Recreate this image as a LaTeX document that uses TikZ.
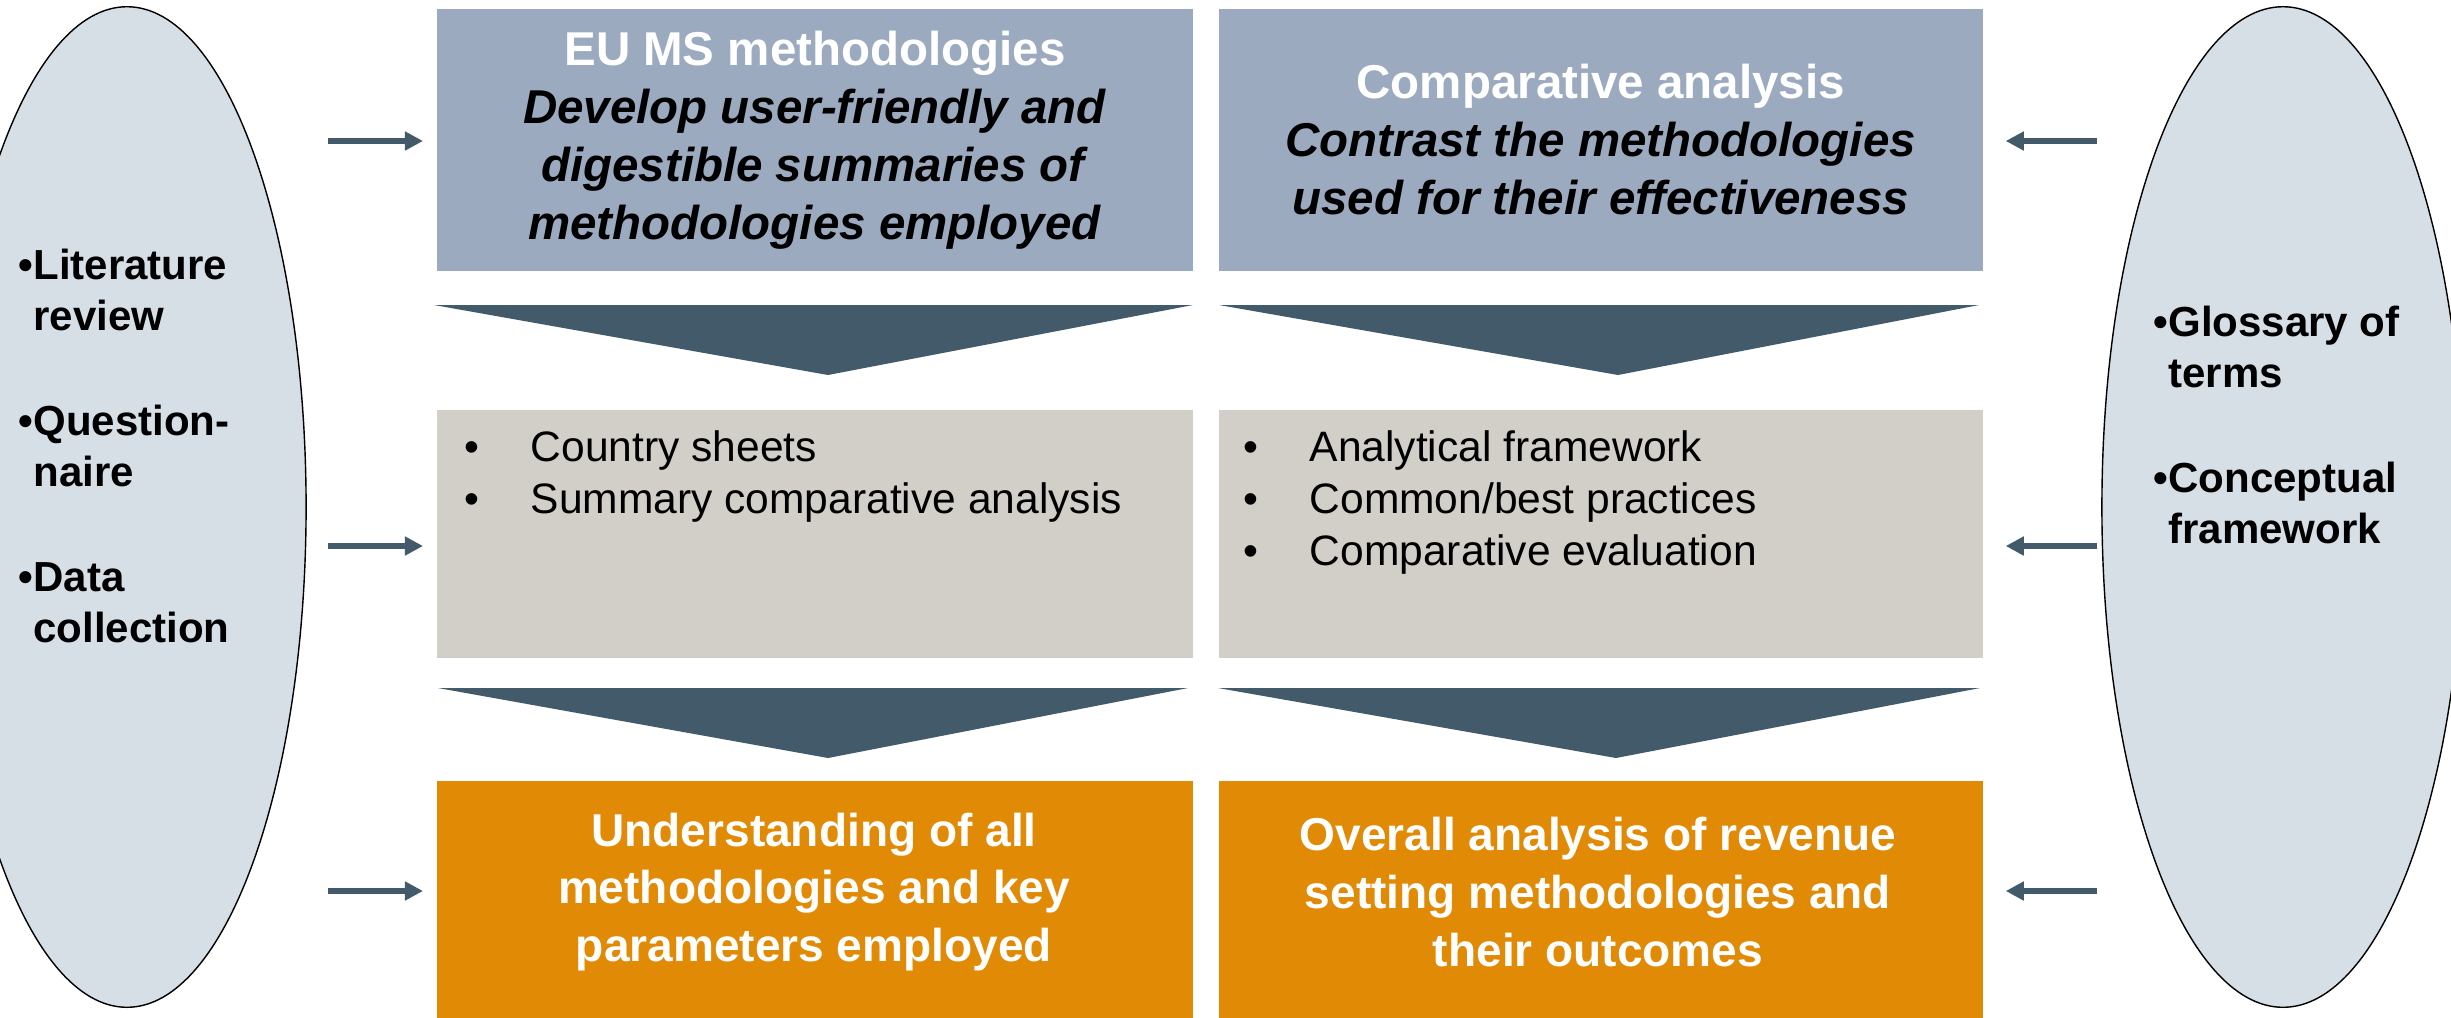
\documentclass[tikz,border=0pt]{standalone}
\usepackage{fontspec}
\setmainfont{Liberation Sans}
\usepackage{xcolor}
\usetikzlibrary{positioning,arrows.meta,shapes.geometric}

\definecolor{hdblue}{HTML}{9CAAC0}
\definecolor{midgrey}{HTML}{D1CFC7}
\definecolor{outorange}{HTML}{E08A05}
\definecolor{slate}{HTML}{425A6A}
\definecolor{ovalfill}{HTML}{D6DFE6}

\newcommand{\lbul}{\makebox[0.66cm][l]{\textbullet}}
\newcommand{\obul}{\textbullet}
\newcommand{\ohang}{\phantom{\textbullet}}

\tikzset{
  box/.style={rectangle,inner sep=0pt,anchor=north west},
  oval/.style={ellipse,draw=black,line width=0.4pt,fill=ovalfill,inner sep=0pt},
  ovtxt/.style={align=left,inner sep=0pt,anchor=north west,font=\bfseries\fontsize{11.95}{14.5}\selectfont},
  hdtxt/.style={align=center,font=\bfseries\fontsize{13.5}{16.5}\selectfont},
  listtxt/.style={align=left,inner sep=0pt,anchor=north west,font=\fontsize{12.1}{14.8}\selectfont},
  outtxt/.style={align=center,inner sep=0pt,text=white,font=\bfseries\fontsize{13.1}{16.4}\selectfont},
  chev/.style={fill=slate},
  flow/.style={draw=slate,line width=0.06cm,-{Triangle[length=0.18cm,width=0.18cm]}},
}

\begin{document}
\begin{tikzpicture}[x=0.01cm,y=0.01cm]
  \useasboundingbox (0,0) rectangle (2451,-1017);

  % side ovals
  \node[oval,minimum width=3.58cm,minimum height=10cm] (lov) at (127,-507) {};
  \node[oval,minimum width=3.62cm,minimum height=10cm] (rov) at (2283,-507) {};
  \node[ovtxt] (lovtxt) at (18,-248) {\obul Literature\\\ohang review\\[0.54cm]
    \obul Question-\\\ohang naire\\[0.54cm]
    \obul Data\\\ohang collection};
  \node[ovtxt] (rovtxt) at (2153,-305) {\obul Glossary of\\\ohang terms\\[0.54cm]
    \obul Conceptual\\\ohang framework};

  % top row
  \node[box,fill=hdblue,minimum width=7.56cm,minimum height=2.62cm,hdtxt,anchor=north west] (eums) at (436,-8)
    {\textcolor{white}{EU MS methodologies}\\ \textit{Develop user-friendly and}\\ \textit{digestible summaries of}\\ \textit{methodologies employed}};
  \node[box,fill=hdblue,minimum width=7.64cm,minimum height=2.62cm,hdtxt,anchor=center,right=0.24cm of eums] (comp)
    {\textcolor{white}{Comparative analysis}\\ \textit{Contrast the methodologies}\\ \textit{used for their effectiveness}};

  % middle row
  \node[box,fill=midgrey,minimum width=7.56cm,minimum height=2.47cm,anchor=center,below=1.38cm of eums] (sheets) {};
  \node[box,fill=midgrey,minimum width=7.64cm,minimum height=2.47cm,anchor=center,below=1.38cm of comp] (frame) {};
  \node[listtxt] (sheetstxt) at (464,-430) {\lbul Country sheets\\ \lbul Summary comparative analysis};
  \node[listtxt] (frametxt) at (1243,-430) {\lbul Analytical framework\\ \lbul Common/best practices\\ \lbul Comparative evaluation};

  % bottom row
  \node[box,fill=outorange,minimum width=7.56cm,minimum height=2.4cm,anchor=center,below=1.22cm of sheets] (underst) {};
  \node[box,fill=outorange,minimum width=7.64cm,minimum height=2.4cm,anchor=center,below=1.22cm of frame] (overall) {};
  \node[outtxt] (underst txt) at (814,-892) {Understanding of all\\methodologies and key\\parameters employed};
  \node[outtxt] (overall txt) at (1598,-892) {Overall analysis of revenue\\setting methodologies and\\their outcomes};

  % chevrons
  \foreach \l/\r/\a/\t/\b in {434/1193/828/305/375, 1219/1979/1618/305/375, 438/1188/828/688/758, 1218/1980/1616/688/758}
    \fill[chev] (\l,-\t) -- (\r,-\t) -- (\a,-\b) -- cycle;

  % input arrows
  \foreach \y/\lb/\rb in {141/eums/comp, 546/sheets/frame, 891/underst/overall} {
    \coordinate (la\lb) at (328,-\y);
    \coordinate (ra\rb) at (2097,-\y);
    \draw[flow,shorten >=0.13cm] (la\lb) -- (la\lb -| \lb.west);
    \draw[flow,shorten >=0.22cm] (ra\rb) -- (ra\rb -| \rb.east);
  }
\end{tikzpicture}
\end{document}
